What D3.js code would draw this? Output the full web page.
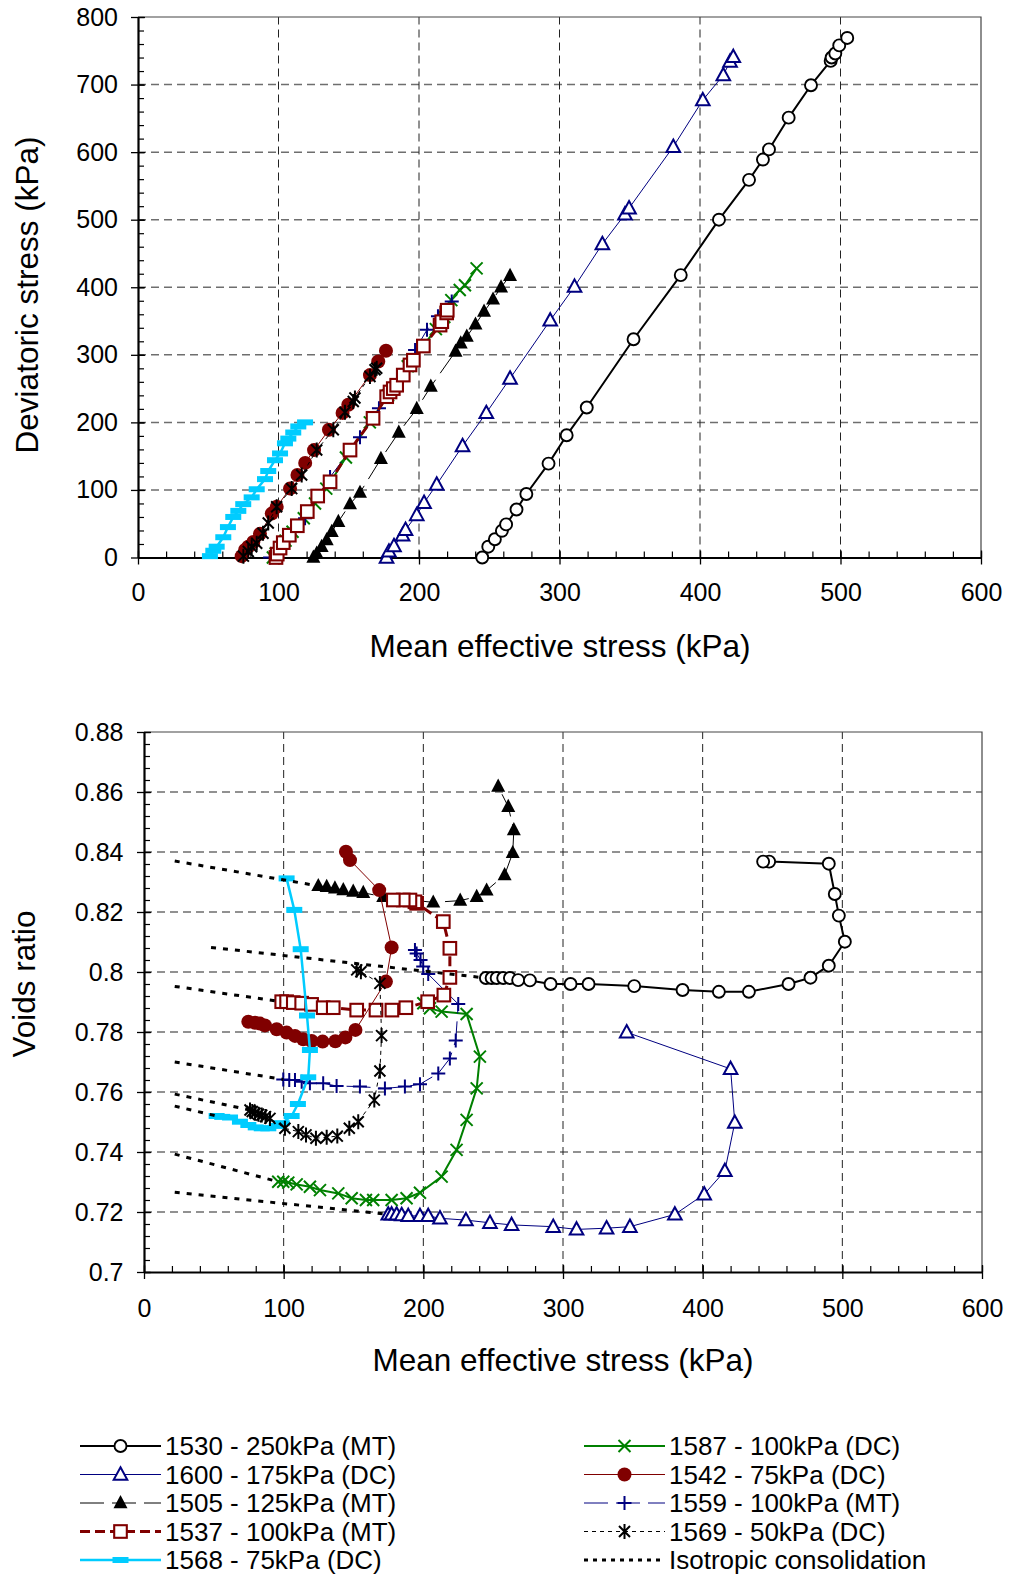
<!DOCTYPE html>
<html>
<head>
<meta charset="utf-8">
<script src="https://cdn.jsdelivr.net/npm/d3@7"></script>
<style>
  body { margin: 0; background: #fff; }
  svg { display: block; }
  text { font-family: "Liberation Sans", Arial, sans-serif; fill: #000; }
</style>
</head>
<body>
<svg id="chart" width="1010" height="1575"></svg>
<script>
// ---------- Stress paths: [mean effective stress p' (kPa), deviatoric stress q (kPa)] ----------
const s1530_pq = [[245,0],[249.3,16],[254,27],[259,39.5],[262,49],[269.4,71],[276.4,94],[292.2,139],[305.1,181],[319.4,222],[352.7,323],[386.3,418],[413.5,500],[434.9,559],[444.8,589],[449.1,604],[463.1,651],[479,699],[493,735],[493.7,740],[496.3,746],[499.1,758],[504.8,769]];
const s1600_pq = [[176.9,0],[178.6,9],[182.2,17],[188.3,33],[190.4,41],[198.4,63],[203.6,81],[212.6,108],[231,165],[247.9,214],[264.8,265],[293.4,351],[310.7,401],[330.5,464],[346.6,508],[349.5,517],[381,608],[402,677],[416.6,714],[421.4,734],[423.7,741]];
const s1505_pq = [[124.8,0],[127.2,6],[130.7,16],[134.3,26],[137.9,38],[142.6,53],[150.9,79],[158,96],[172.9,146],[185.6,185],[198.4,220],[208.4,253],[226,305],[229.7,317],[234,327],[240.2,345],[246.3,364],[252.7,382],[258.4,400],[264.8,417]];
const s1537_pq = [[98.2,0],[99.1,5],[101.1,14],[103.4,22],[107.7,33],[113.4,47],[120.5,68],[127.9,91],[136.7,112],[150.9,159],[167.3,206],[177,238],[179.4,245],[181.7,250],[184.1,255],[188.8,270],[193.6,285],[196,292],[203.1,313],[215,344],[216.2,349],[219.7,362],[220.1,366]];
const s1568_pq = [[51.2,2],[53.6,10],[56,16],[60.7,30],[64,45],[67.8,60],[71.4,69],[74.9,79],[80.9,89],[84.5,101],[90.4,116],[92.7,128],[97.5,144],[101.1,154],[104.6,169],[107,176],[110.5,185],[114.1,194],[118.9,200]];
const s1587_pq = [[96,0],[98,6],[101,14],[105,25],[110,38],[118,58],[126,80],[134,102],[148,148],[165,200],[178,240],[192,283],[203,313],[212,338],[218,356],[223,381],[229,396],[232.7,403],[241,428]];
const s1542_pq = [[73.8,2],[76.2,11],[78.5,16],[82.1,23],[86.8,35],[95.2,65],[98.7,75],[108.2,102],[113.5,122],[119,140],[125.3,159],[135.9,189],[145.6,214],[149.7,226],[165.1,270],[171,290],[176.5,306]];
const s1559_pq = [[94,0],[103.2,26],[118.9,58],[136.7,119],[158,178],[171.5,221],[197.2,307],[205.7,337],[213.5,357],[223.3,379]];
const s1569_pq = [[75,2],[78.5,9],[80.9,16],[84.5,21],[89,36],[92.7,51],[98.7,75],[109.4,102],[116.5,122],[127.2,159],[139,189],[147.3,215],[153.2,231],[154.4,236],[165.1,268],[168.7,278],[169.9,280]];

// ---------- Compression paths: [mean effective stress p' (kPa), voids ratio e] ----------
const s1530_pe = [[244.8,0.798],[248.9,0.798],[252.5,0.798],[257.2,0.798],[262,0.798],[267.9,0.7973],[276.3,0.7972],[291.1,0.796],[305.4,0.796],[318.3,0.796],[351,0.7953],[385.6,0.794],[411.6,0.7934],[433.1,0.7934],[461.5,0.796],[477.2,0.7981],[490.3,0.8021],[501.8,0.8101],[497.5,0.8188],[494.6,0.826],[490.3,0.8361],[447.6,0.8368],[443.3,0.8368]];
const s1600_pe = [[174.9,0.7192],[177.3,0.7192],[180.9,0.7192],[184.5,0.719],[189.2,0.7187],[197.6,0.7187],[203.5,0.7187],[211.9,0.7179],[230.5,0.7173],[247.7,0.7164],[263.2,0.7157],[293,0.7151],[309.7,0.7142],[331.2,0.7146],[347.9,0.7151],[380.1,0.7192],[401.1,0.7259],[415.9,0.7337],[423,0.7498],[420,0.7677],[345.6,0.7799]];
const s1505_pe = [[124.8,0.8287],[130.8,0.8284],[136.7,0.8279],[142.7,0.8273],[149.8,0.8268],[157,0.8264],[171.3,0.8251],[207.1,0.8232],[226.4,0.8238],[238.2,0.8251],[245.3,0.8272],[258.2,0.8323],[264,0.8397],[264.8,0.8473],[260.8,0.8551],[253.6,0.8618]];
const s1537_pe = [[98.6,0.7901],[102.1,0.7901],[106.9,0.7898],[112.9,0.7896],[120,0.7892],[128.3,0.7881],[135.5,0.7881],[152.3,0.7873],[166.1,0.7873],[177.5,0.7873],[187.5,0.7881],[203.1,0.7901],[214.7,0.7923],[219,0.7982],[219,0.8079],[214.3,0.8168],[195.2,0.8229],[194,0.8234],[190.4,0.824],[185.6,0.824],[178.5,0.824]];
const s1568_pe = [[52,0.752],[56,0.7517],[61.6,0.7515],[68.7,0.7501],[74.7,0.749],[80,0.7482],[84.3,0.7479],[89,0.7479],[95,0.7487],[98.6,0.7496],[105.7,0.752],[110.2,0.756],[117.6,0.7649],[118.8,0.774],[116.7,0.7855],[112.2,0.8076],[107.6,0.8207],[102.1,0.8312]];
const s1587_pe = [[96.1,0.7301],[99.7,0.7301],[103.3,0.7298],[109.3,0.7292],[118.8,0.7284],[126,0.7273],[139.1,0.7262],[148.7,0.7246],[158.9,0.724],[164.1,0.724],[177.3,0.724],[188,0.7246],[197.6,0.7264],[213.1,0.7318],[223.8,0.7407],[231,0.7507],[238.2,0.7612],[240.5,0.7718],[231,0.786],[213.1,0.7868],[204.7,0.7879],[200,0.7896]];
const s1542_pe = [[74.7,0.7834],[79.5,0.7831],[83,0.7828],[86.6,0.7822],[95,0.7809],[102.1,0.7798],[108.1,0.7787],[114,0.7776],[120,0.777],[127.9,0.7768],[137,0.7769],[144.2,0.7782],[151.4,0.7807],[173.2,0.7968],[177.3,0.8082],[168.4,0.8273],[147.5,0.8373],[144.6,0.8401]];
const s1559_pe = [[99.7,0.7642],[104,0.764],[108.1,0.764],[112.9,0.7634],[118.8,0.7629],[128.3,0.7629],[137.9,0.762],[154.6,0.7618],[172.5,0.7612],[186.8,0.7618],[197.6,0.7626],[210.7,0.7662],[219,0.7712],[223.2,0.7772],[225,0.7893],[203.5,0.7993],[199.9,0.8018],[198,0.804],[195.2,0.8062],[194,0.8073]];
const s1569_pe = [[75.9,0.754],[77.5,0.7535],[79.5,0.7529],[82,0.7526],[84.3,0.7523],[87,0.7518],[90.2,0.7512],[100.9,0.7479],[110.5,0.7468],[116,0.7457],[123.1,0.7446],[130.8,0.7449],[138.4,0.7453],[147,0.7479],[153.4,0.7501],[164.9,0.7573],[168.9,0.767],[170.1,0.7788],[168.9,0.7962],[155.3,0.8001],[152.3,0.8007]];

// ---------- Isotropic consolidation lines [p', e] ----------
const iso1505 = [[22,0.8370],[124.8,0.8287]];
const iso1530 = [[48,0.8082],[244.8,0.798]];
const iso1537 = [[22,0.7952],[98.6,0.7901]];
const iso1559 = [[22,0.7700],[99.7,0.7642]];
const iso1569 = [[22,0.7593],[75.9,0.754]];
const iso1568 = [[22,0.7553],[52,0.752]];
const iso1587 = [[22,0.7393],[96.1,0.7301]];
const iso1600 = [[22,0.7266],[174.9,0.7192]];

// ---------- Axis ticks and labels ----------
const qTicks = [0,100,200,300,400,500,600,700,800];
const pTicks = [0,100,200,300,400,500,600];
const eTicks = [0.70,0.72,0.74,0.76,0.78,0.80,0.82,0.84,0.86,0.88];
const eTickLabels = ["0.7","0.72","0.74","0.76","0.78","0.8","0.82","0.84","0.86","0.88"];
const titleQ = "Deviatoric stress (kPa)";
const titleP = "Mean effective stress (kPa)";
const titleE = "Voids ratio";

// Legend entries (column-major order)
const legendLabels = ["1530 - 250kPa (MT)","1600 - 175kPa (DC)","1505 - 125kPa (MT)","1537 - 100kPa (MT)","1568 - 75kPa (DC)",
                      "1587 - 100kPa (DC)","1542 - 75kPa (DC)","1559 - 100kPa (MT)","1569 - 50kPa (DC)","Isotropic consolidation"];

// Series styling
const NAVY = "#000080", MAROON = "#800000", GREEN = "#008000", CYAN = "#00CCFF";
const series = {
  s1530: {pq: s1530_pq, pe: s1530_pe, color: "#000", width: 2, dash: null, marker: "circleOpen", label: legendLabels[0]},
  s1600: {pq: s1600_pq, pe: s1600_pe, color: NAVY, width: 1, dash: null, marker: "triOpen", label: legendLabels[1]},
  s1505: {pq: s1505_pq, pe: s1505_pe, color: "#000", width: 1, dash: "24,8", marker: "triFilled", label: legendLabels[2]},
  s1537: {pq: s1537_pq, pe: s1537_pe, color: MAROON, width: 3, dash: "10,5", marker: "squareOpen", label: legendLabels[3]},
  s1568: {pq: s1568_pq, pe: s1568_pe, color: CYAN, width: 2.5, dash: null, marker: "bar", label: legendLabels[4]},
  s1587: {pq: s1587_pq, pe: s1587_pe, color: GREEN, width: 2, dash: null, marker: "cross", label: legendLabels[5]},
  s1542: {pq: s1542_pq, pe: s1542_pe, color: MAROON, width: 1, dash: null, marker: "dot", label: legendLabels[6]},
  s1559: {pq: s1559_pq, pe: s1559_pe, color: NAVY, width: 1, dash: "24,8", marker: "plus", label: legendLabels[7]},
  s1569: {pq: s1569_pq, pe: s1569_pe, color: "#000", width: 1, dash: "4,4", marker: "star", label: legendLabels[8]}
};
const drawOrder = ["s1530","s1600","s1505","s1587","s1559","s1537","s1542","s1568","s1569"];
const legendOrder = ["s1530","s1600","s1505","s1537","s1568","s1587","s1542","s1559","s1569"];
const isoLines = [iso1505, iso1530, iso1537, iso1559, iso1569, iso1568, iso1587, iso1600];

const svg = d3.select("#chart");
svg.append("rect").attr("width", 1010).attr("height", 1575).attr("fill", "#fff");

function marker(g, type, color) {
  switch (type) {
    case "circleOpen":
      g.append("circle").attr("r", 6).attr("fill", "#fff").attr("stroke", color).attr("stroke-width", 1.9); break;
    case "triOpen":
      g.append("path").attr("d", "M0,-7.2L6.8,5.2L-6.8,5.2Z").attr("fill", "#fff").attr("stroke", color).attr("stroke-width", 2); break;
    case "triFilled":
      g.append("path").attr("d", "M0,-8L7,5.2L-7,5.2Z").attr("fill", color); break;
    case "squareOpen":
      g.append("rect").attr("x", -6.3).attr("y", -6.3).attr("width", 12.6).attr("height", 12.6)
        .attr("fill", "#fff").attr("stroke", color).attr("stroke-width", 2.1); break;
    case "bar":
      g.append("rect").attr("x", -8).attr("y", -3).attr("width", 16).attr("height", 6).attr("fill", color); break;
    case "cross":
      g.append("path").attr("d", "M-6,-6L6,6M-6,6L6,-6").attr("stroke", color).attr("stroke-width", 2).attr("fill", "none"); break;
    case "dot":
      g.append("circle").attr("r", 7).attr("fill", color); break;
    case "plus":
      g.append("path").attr("d", "M-7,0H7M0,-7V7").attr("stroke", color).attr("stroke-width", 2).attr("fill", "none"); break;
    case "star":
      g.append("path").attr("d", "M-5.5,-5.5L5.5,5.5M-5.5,5.5L5.5,-5.5M0,-7.5V7.5").attr("stroke", color).attr("stroke-width", 2).attr("fill", "none"); break;
  }
}

function panel(opt) {
  const { x, y, majorX, majorY, minorX, minorY, yFormat } = opt;
  const [x0, x1] = x.range();
  const [y0, y1] = y.range(); // y0 bottom, y1 top
  const g = svg.append("g");

  // grid
  const grid = g.append("g");
  grid.selectAll("line.h").data(majorY.slice(1, -1)).join("line")
    .attr("x1", x0).attr("x2", x1).attr("y1", d => y(d)).attr("y2", d => y(d))
    .attr("stroke", "#6e6e6e").attr("stroke-width", 1.5).attr("stroke-dasharray", "8,5");
  grid.selectAll("line.v").data(majorX.slice(1, -1)).join("line")
    .attr("x1", d => x(d)).attr("x2", d => x(d)).attr("y1", y0).attr("y2", y1)
    .attr("stroke", "#222").attr("stroke-width", 1).attr("stroke-dasharray", "8,5");

  // frame: top and right
  g.append("path").attr("d", `M${x0},${y1}H${x1}V${y0}`).attr("fill", "none").attr("stroke", "#444").attr("stroke-width", 1.2);

  // minor ticks
  g.append("g").attr("transform", `translate(0,${y0})`)
    .call(d3.axisBottom(x).tickValues(minorX).tickSize(-6).tickFormat(""))
    .call(a => { a.select(".domain").remove(); a.selectAll("line").attr("stroke", "#000").attr("stroke-width", 1.2); });
  g.append("g").attr("transform", `translate(${x0},0)`)
    .call(d3.axisLeft(y).tickValues(minorY).tickSize(-6).tickFormat(""))
    .call(a => { a.select(".domain").remove(); a.selectAll("line").attr("stroke", "#000").attr("stroke-width", 1.2); });

  // major axes
  g.append("g").attr("transform", `translate(0,${y0})`)
    .call(d3.axisBottom(x).tickValues(majorX).tickSizeInner(7).tickSizeOuter(0).tickPadding(opt.xPad).tickFormat(d3.format("d")))
    .call(a => {
      a.select(".domain").attr("stroke", "#000").attr("stroke-width", 2.2);
      a.selectAll("line").attr("y1", -7).attr("stroke", "#000").attr("stroke-width", 1.3);
      a.selectAll("text").attr("font-size", 25).attr("font-family", '"Liberation Sans", Arial, sans-serif').attr("fill", "#000");
    });
  g.append("g").attr("transform", `translate(${x0},0)`)
    .call(d3.axisLeft(y).tickValues(majorY).tickSizeInner(7).tickSizeOuter(0).tickPadding(opt.yPad).tickFormat(yFormat))
    .call(a => {
      a.select(".domain").attr("stroke", "#000").attr("stroke-width", 2.2);
      a.selectAll("line").attr("x1", 7).attr("stroke", "#000").attr("stroke-width", 1.3);
      a.selectAll("text").attr("font-size", 25).attr("font-family", '"Liberation Sans", Arial, sans-serif').attr("fill", "#000");
    });
  return g;
}

function drawSeries(g, x, y, data, s) {
  const line = d3.line().x(d => x(d[0])).y(d => y(d[1]));
  g.append("path").attr("d", line(data)).attr("fill", "none")
    .attr("stroke", s.color).attr("stroke-width", s.width)
    .attr("stroke-dasharray", s.dash).attr("stroke-linejoin", "round");
  data.forEach(d => {
    const m = g.append("g").attr("transform", `translate(${x(d[0])},${y(d[1])})`);
    marker(m, s.marker, s.color);
  });
}

// ---------- Top panel: q vs p' ----------
const xTop = d3.scaleLinear().domain([0, 600]).range([138, 981]);
const yTop = d3.scaleLinear().domain([0, 800]).range([557.5, 17]);
const gTop = panel({
  x: xTop, y: yTop, majorX: pTicks, majorY: qTicks,
  minorX: d3.range(0, 601, 20), minorY: d3.range(0, 801, 20),
  yFormat: d3.format("d"), xPad: 19, yPad: 13
});
const topMarks = gTop.append("g");
drawOrder.forEach(k => drawSeries(topMarks, xTop, yTop, series[k].pq, series[k]));

gTop.append("text").attr("x", 560).attr("y", 657).attr("text-anchor", "middle").attr("font-size", 31.5).text(titleP);
gTop.append("text").attr("transform", "translate(38,295) rotate(-90)").attr("text-anchor", "middle").attr("font-size", 31.5).text(titleQ);

// ---------- Bottom panel: e vs p' ----------
const xBot = d3.scaleLinear().domain([0, 600]).range([144, 982]);
const yBot = d3.scaleLinear().domain([0.70, 0.88]).range([1272, 732]);
const gBot = panel({
  x: xBot, y: yBot, majorX: pTicks, majorY: eTicks,
  minorX: d3.range(0, 601, 20), minorY: d3.range(0, 46).map(i => 0.70 + i * 0.004),
  yFormat: (d, i) => eTickLabels[i], xPad: 20, yPad: 13.5
});
const botMarks = gBot.append("g");
drawOrder.forEach(k => drawSeries(botMarks, xBot, yBot, series[k].pe, series[k]));
const isoLine = d3.line().x(d => xBot(d[0])).y(d => yBot(d[1]));
botMarks.selectAll("path.iso").data(isoLines).join("path").attr("class", "iso")
  .attr("d", isoLine).attr("fill", "none").attr("stroke", "#000").attr("stroke-width", 3).attr("stroke-dasharray", "5,7");

gBot.append("text").attr("x", 563).attr("y", 1371).attr("text-anchor", "middle").attr("font-size", 31.5).text(titleP);
gBot.append("text").attr("transform", "translate(35,984) rotate(-90)").attr("text-anchor", "middle").attr("font-size", 31.5).text(titleE);

// ---------- Legend ----------
const lg = svg.append("g");
const rowY = i => 1446 + i * 28.5;
legendOrder.forEach((k, i) => {
  const s = series[k];
  const col = i < 5 ? 0 : 1;
  const row = i % 5;
  const lx0 = col === 0 ? 80 : 584, lx1 = lx0 + 81;
  const cy = rowY(row);
  lg.append("line").attr("x1", lx0).attr("x2", lx1).attr("y1", cy).attr("y2", cy)
    .attr("stroke", s.color).attr("stroke-width", s.width).attr("stroke-dasharray", s.dash);
  const m = lg.append("g").attr("transform", `translate(${(lx0 + lx1) / 2},${cy})`);
  marker(m, s.marker, s.color);
  lg.append("text").attr("x", lx1 + 4).attr("y", cy + 9).attr("font-size", 26).text(s.label);
});
{
  const cy = rowY(4);
  lg.append("line").attr("x1", 584).attr("x2", 665).attr("y1", cy).attr("y2", cy)
    .attr("stroke", "#000").attr("stroke-width", 3).attr("stroke-dasharray", "4,5");
  lg.append("text").attr("x", 669).attr("y", cy + 9).attr("font-size", 26).text(legendLabels[9]);
}
</script>
</body>
</html>
